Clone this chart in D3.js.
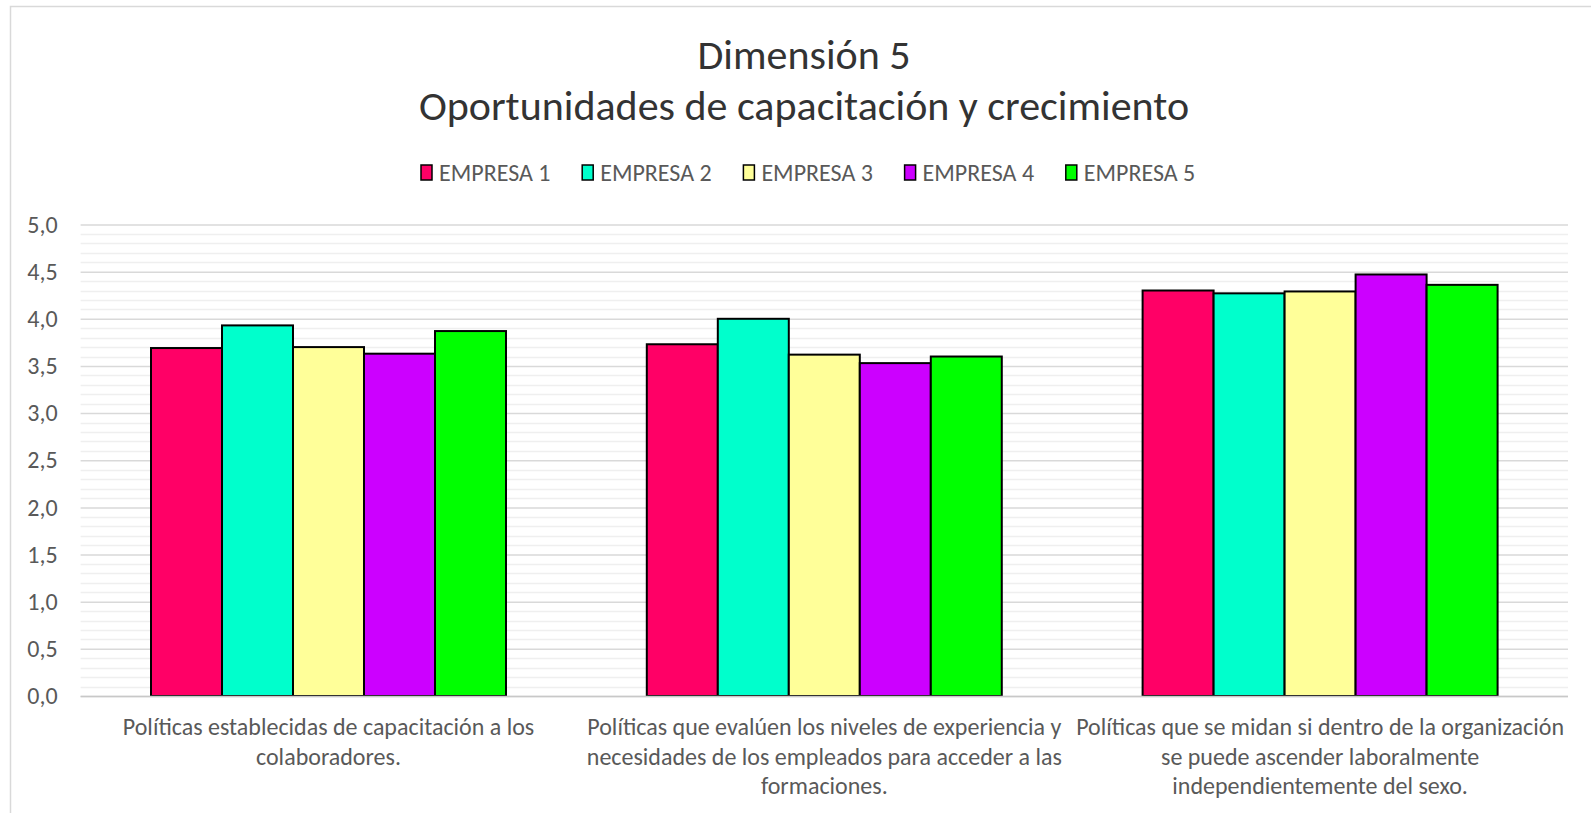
<!DOCTYPE html>
<html>
<head>
<meta charset="utf-8">
<script src="https://cdn.jsdelivr.net/npm/d3@7"></script>
<style>
  body { margin: 0; background: #ffffff; }
  svg text { font-family: Calibri, Carlito, Lato, sans-serif; }
</style>
</head>
<body>
<div id="chart"></div>
<script>
// chart data
var categories = [
  'Políticas establecidas de capacitación a los colaboradores.',
  'Políticas que evalúen los niveles de experiencia y necesidades de los empleados para acceder a las formaciones.',
  'Políticas que se midan si dentro de la organización se puede ascender laboralmente independientemente del sexo.'
];
var categoryLines = [
  ['Políticas establecidas de capacitación a los', 'colaboradores.'],
  ['Políticas que evalúen los niveles de experiencia y', 'necesidades de los empleados para acceder a las', 'formaciones.'],
  ['Políticas que se midan si dentro de la organización', 'se puede ascender laboralmente', 'independientemente del sexo.']
];
var seriesNames = ['EMPRESA 1', 'EMPRESA 2', 'EMPRESA 3', 'EMPRESA 4', 'EMPRESA 5'];
var seriesColors = ['#FF0066', '#00FFCC', '#FFFF99', '#CC00FF', '#00FF00'];
var empresa1 = [3.69, 3.73, 4.30];
var empresa2 = [3.93, 4.00, 4.27];
var empresa3 = [3.70, 3.62, 4.29];
var empresa4 = [3.63, 3.53, 4.47];
var empresa5 = [3.87, 3.60, 4.36];
var yTicks = [0, 0.5, 1, 1.5, 2, 2.5, 3, 3.5, 4, 4.5, 5];
var titleLines = ['Dimensión 5', 'Oportunidades de capacitación y crecimiento'];

var seriesValues = [empresa1, empresa2, empresa3, empresa4, empresa5];

drawChart();

function drawChart() {

  var w = 1591;
  var h = 813;
  var left = 80.6, right = 1568, top = 224.5, bottom = 696;

  var svg = d3.select('#chart').append('svg')
              .attr('width', w)
              .attr('height', h);

  // chart area border
  svg.append('rect')
     .attr('x', 10.5).attr('y', 6.5)
     .attr('width', w + 20).attr('height', h + 20)
     .attr('fill', 'none')
     .attr('stroke', '#d9d9d9')
     .attr('stroke-width', 1.5);

  var y = d3.scaleLinear().domain([0, 5]).range([bottom, top]);

  var x0 = d3.scaleBand()
             .domain(categories)
             .range([left, right])
             .paddingInner(0.284)
             .paddingOuter(0.142);

  var x1 = d3.scaleBand()
             .domain(seriesNames)
             .range([0, x0.bandwidth()]);

  // minor gridlines
  var minor = d3.range(0, 50).map(function(i) { return i / 10; })
                .filter(function(v) { return Math.round(v * 10) % 5 != 0; });
  svg.append('g')
     .selectAll('line')
     .data(minor)
     .enter()
     .append('line')
     .attr('x1', left).attr('x2', right)
     .attr('y1', function(d) { return Math.round(y(d)) + 0.5; })
     .attr('y2', function(d) { return Math.round(y(d)) + 0.5; })
     .attr('stroke', '#efefef')
     .attr('stroke-width', 1.3);

  // major gridlines + y labels
  var yAxis = d3.axisLeft(y)
                .tickValues(yTicks)
                .tickSize(-(right - left))
                .tickPadding(23)
                .tickFormat(function(d) { return d3.format('.1f')(d).replace('.', ','); });

  var gy = svg.append('g')
              .attr('transform', 'translate(' + left + ',0)')
              .call(yAxis);
  gy.select('.domain').remove();
  gy.selectAll('.tick line')
    .attr('stroke', '#d9d9d9')
    .attr('stroke-width', 1.5);
  gy.selectAll('.tick text')
    .attr('fill', '#595959')
    .style('font-size', '24px');

  // bars
  var groups = svg.append('g')
                  .selectAll('g')
                  .data(categories)
                  .enter()
                  .append('g')
                  .attr('transform', function(d) { return 'translate(' + x0(d) + ',0)'; });

  groups.selectAll('rect')
        .data(function(d, i) {
          return seriesNames.map(function(s, j) {
            return { name: s, value: seriesValues[j][i], color: seriesColors[j] };
          });
        })
        .enter()
        .append('rect')
        .attr('x', function(d) { return x1(d.name); })
        .attr('y', function(d) { return y(d.value); })
        .attr('width', x1.bandwidth())
        .attr('height', function(d) { return y(0) - y(d.value); })
        .attr('fill', function(d) { return d.color; })
        .attr('stroke', '#000000')
        .attr('stroke-width', 2);

  // x axis line
  svg.append('line')
     .attr('x1', left).attr('x2', right)
     .attr('y1', bottom + 0.5).attr('y2', bottom + 0.5)
     .attr('stroke', '#c8c8c8')
     .attr('stroke-width', 1.5);

  // category labels
  var labels = svg.append('g')
                  .selectAll('text')
                  .data(categories)
                  .enter()
                  .append('text')
                  .attr('text-anchor', 'middle')
                  .attr('fill', '#595959')
                  .style('font-size', '24px')
                  .attr('x', function(d) { return x0(d) + x0.bandwidth() / 2; })
                  .attr('y', 735);

  labels.selectAll('tspan')
        .data(function(d, i) { return categoryLines[i]; })
        .enter()
        .append('tspan')
        .attr('x', function() { var c = d3.select(this.parentNode).datum(); return x0(c) + x0.bandwidth() / 2; })
        .attr('dy', function(d, i) { return i == 0 ? 0 : 29.5; })
        .text(function(d) { return d; });

  // title
  svg.append('g')
     .selectAll('text')
     .data(titleLines)
     .enter()
     .append('text')
     .attr('x', 804)
     .attr('y', function(d, i) { return 69 + i * 51; })
     .attr('text-anchor', 'middle')
     .attr('fill', '#333333')
     .style('font-size', '42px')
     .text(function(d) { return d; });

  // legend
  var legend = svg.append('g')
                  .selectAll('g')
                  .data(seriesNames)
                  .enter()
                  .append('g')
                  .attr('transform', function(d, i) { return 'translate(' + (421 + i * 161.2) + ',165)'; });

  legend.append('rect')
        .attr('x', 0).attr('y', 0)
        .attr('width', 11).attr('height', 15)
        .attr('fill', function(d, i) { return seriesColors[i]; })
        .attr('stroke', '#000000')
        .attr('stroke-width', 1.5);

  legend.append('text')
        .attr('x', 18)
        .attr('y', 16)
        .attr('fill', '#595959')
        .style('font-size', '24px')
        .text(function(d) { return d; });
}
</script>
</body>
</html>
